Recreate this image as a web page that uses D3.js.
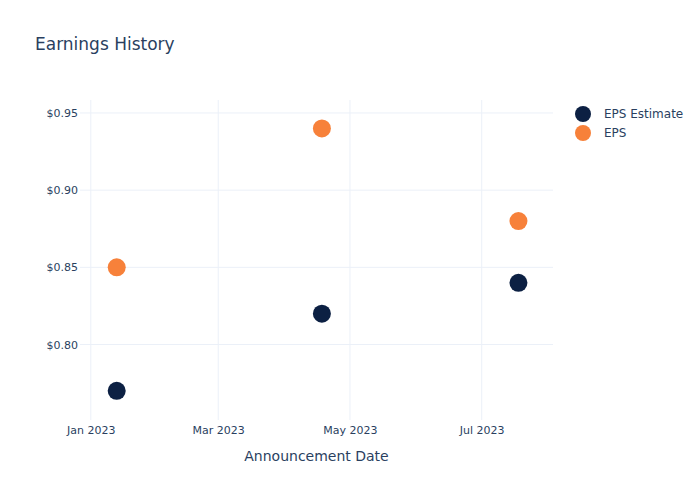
<!DOCTYPE html>
<html><head><meta charset="utf-8">
<script src="https://cdn.jsdelivr.net/npm/d3@7"></script>
<style>body{margin:0;background:#fff;}text{font-family:"DejaVu Sans",Verdana,sans-serif;}</style>
</head><body><div id="chart"></div>
<script>
const dates = ["2023-01-13", "2023-04-18", "2023-07-18"];
const epsEstimate = [0.77, 0.82, 0.84];
const eps = [0.85, 0.94, 0.88];
const seriesNames = ["EPS Estimate", "EPS"];
const seriesColors = ["#0c2043", "#f7813a"];
const yTicks = [0.80, 0.85, 0.90, 0.95];
const xTicks = ["2023-01-01", "2023-03-01", "2023-05-01", "2023-07-01"];

const W = 700, H = 500;
const m = {l: 80, r: 147, t: 100, b: 80};
const parse = d3.utcParse("%Y-%m-%d");
const svg = d3.select("#chart").append("svg").attr("width", W).attr("height", H);

const x = d3.scaleUtc().domain([parse("2022-12-27"), parse("2023-08-03")]).range([m.l, W - m.r]);
const y = d3.scaleLinear().domain([0.7511, 0.9584]).range([H - m.b, m.t]);

const grid = "#ebf0f8", txt = "#2a3f5f";
svg.append("g").selectAll("line").data(xTicks).join("line")
  .attr("x1", d => x(parse(d))).attr("x2", d => x(parse(d)))
  .attr("y1", m.t).attr("y2", H - m.b).attr("stroke", grid).attr("stroke-width", 1);
svg.append("g").selectAll("line").data(yTicks).join("line")
  .attr("x1", m.l).attr("x2", W - m.r)
  .attr("y1", d => y(d)).attr("y2", d => y(d)).attr("stroke", grid).attr("stroke-width", 1);

const xAxis = svg.append("g").attr("transform", `translate(0,${H - m.b})`)
  .call(d3.axisBottom(x).tickValues(xTicks.map(parse)).tickFormat(d3.utcFormat("%b %Y")).tickSize(0).tickPadding(6));
xAxis.select(".domain").remove();
xAxis.selectAll("text").attr("fill", txt).attr("font-size", 11).attr("font-family", "DejaVu Sans");

const yAxis = svg.append("g").attr("transform", `translate(${m.l},0)`)
  .call(d3.axisLeft(y).tickValues(yTicks).tickFormat(d => "$" + d3.format(".2f")(d)).tickSize(0).tickPadding(2));
yAxis.select(".domain").remove();
yAxis.selectAll("text").attr("fill", txt).attr("font-size", 11).attr("font-family", "DejaVu Sans");

const series = [epsEstimate, eps];
series.forEach((vals, i) => {
  svg.append("g").selectAll("circle").data(vals).join("circle")
    .attr("cx", (d, j) => x(parse(dates[j])))
    .attr("cy", d => y(d)).attr("r", 9).attr("fill", seriesColors[i]);
});

svg.append("text").attr("x", 35).attr("y", 50).attr("fill", txt).attr("font-size", 17).text("Earnings History");
svg.append("text").attr("x", (m.l + W - m.r) / 2).attr("y", 461).attr("text-anchor", "middle")
  .attr("fill", txt).attr("font-size", 14).text("Announcement Date");

const lg = svg.append("g");
seriesNames.forEach((n, i) => {
  lg.append("circle").attr("cx", 583).attr("cy", 114 + i * 19).attr("r", 8).attr("fill", seriesColors[i]);
  lg.append("text").attr("x", 604).attr("y", 118 + i * 19).attr("fill", txt).attr("font-size", 12).text(n);
});
</script></body></html>
